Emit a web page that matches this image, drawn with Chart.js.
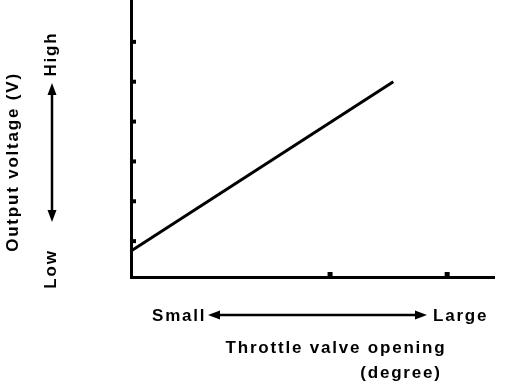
<html>
    <head>
        <title>Throttle Position Sensor Output</title>
        <style>
            body { margin: 0; background: #fff; }
            #wrap { width: 512px; height: 384px; }
        </style>
    </head>
    <body>
        <div id="wrap"><canvas id="myChart"></canvas></div>
        <script src="https://cdn.jsdelivr.net/npm/chart.js@4.4.0/dist/chart.umd.min.js"></script>
        <script>
            // values (arbitrary units, no numbers printed on the axes)
            var xTicks = [5.1, 8.1];          // the two small marks on the throttle axis
            var yTicks = [1, 2, 3, 4, 5, 6];  // the six small marks on the voltage axis
            var throttle = [0, 6.72];         // line start / end along x
            var voltage = [0.75, 5.0];        // line start / end along y

            var xLabelLow = 'Small';
            var xLabelHigh = 'Large';
            var xTitle = ['Throttle valve opening', '(degree)'];
            var yLabelLow = 'Low';
            var yLabelHigh = 'High';
            var yTitle = 'Output voltage (V)';

            var points = throttle.map(function (x, i) { return {x: x, y: voltage[i]}; });

            var FONT = 'bold 17px "Liberation Sans", Arial, sans-serif';

            function arrowHead(ctx, x, y, dx, dy) {
                // filled triangle pointing in direction (dx, dy)
                var len = 12, half = 4.5;
                var px = -dy, py = dx;
                ctx.beginPath();
                ctx.moveTo(x, y);
                ctx.lineTo(x - dx * len + px * half, y - dy * len + py * half);
                ctx.lineTo(x - dx * len - px * half, y - dy * len - py * half);
                ctx.closePath();
                ctx.fill();
            }

            // small tick marks drawn on the inside of the axes + all the hand-lettered labels
            var decorations = {
                id: 'decorations',
                afterDraw: function (chart) {
                    var ctx = chart.ctx;
                    var xs = chart.scales.x, ys = chart.scales.y;
                    var area = chart.chartArea;
                    ctx.save();
                    ctx.fillStyle = '#000';
                    ctx.strokeStyle = '#000';

                    ys.ticks.forEach(function (t) {
                        var py = ys.getPixelForValue(t.value);
                        ctx.fillRect(area.left + 1, py - 2, 4, 4);
                    });
                    xs.ticks.forEach(function (t) {
                        var px = xs.getPixelForValue(t.value);
                        ctx.fillRect(px - 2.5, area.bottom - 5, 5, 4);
                    });

                    ctx.font = FONT;
                    ctx.letterSpacing = '1.8px';
                    ctx.textBaseline = 'middle';

                    // x axis labels
                    ctx.textAlign = 'left';
                    ctx.fillText(xLabelLow, 152, 316);
                    ctx.fillText(xLabelHigh, 433, 316);
                    ctx.lineWidth = 2.5;
                    ctx.beginPath();
                    ctx.moveTo(214, 315);
                    ctx.lineTo(421, 315);
                    ctx.stroke();
                    arrowHead(ctx, 208, 315, -1, 0);
                    arrowHead(ctx, 427, 315, 1, 0);
                    ctx.textAlign = 'center';
                    ctx.fillText(xTitle[0], 336, 348);
                    ctx.fillText(xTitle[1], 401, 373);

                    // y axis labels (rotated)
                    ctx.save();
                    ctx.translate(13, 162);
                    ctx.rotate(-Math.PI / 2);
                    ctx.fillText(yTitle, 0, 0);
                    ctx.restore();

                    ctx.save();
                    ctx.translate(51, 54);
                    ctx.rotate(-Math.PI / 2);
                    ctx.fillText(yLabelHigh, 0, 0);
                    ctx.restore();

                    ctx.save();
                    ctx.translate(51, 269);
                    ctx.rotate(-Math.PI / 2);
                    ctx.fillText(yLabelLow, 0, 0);
                    ctx.restore();

                    ctx.beginPath();
                    ctx.moveTo(52, 89);
                    ctx.lineTo(52, 216);
                    ctx.stroke();
                    arrowHead(ctx, 52, 83, 0, -1);
                    arrowHead(ctx, 52, 222, 0, 1);

                    ctx.restore();
                }
            };

            var ctx = document.getElementById('myChart').getContext('2d');
            var chart = new Chart(ctx, {
                type: 'scatter',
                data: {
                    datasets: [{
                        data: points,
                        showLine: true,
                        borderColor: '#000',
                        borderWidth: 3,
                        pointRadius: 0,
                        fill: false
                    }]
                },
                options: {
                    responsive: true,
                    maintainAspectRatio: false,
                    animation: false,
                    layout: { padding: { left: 131, right: 18, top: 0, bottom: 107 } },
                    plugins: {
                        legend: { display: false },
                        tooltip: { enabled: false }
                    },
                    scales: {
                        x: {
                            type: 'linear',
                            min: 0,
                            max: 9.3,
                            afterBuildTicks: function (s) { s.ticks = xTicks.map(function (v) { return {value: v}; }); },
                            ticks: { display: false },
                            grid: { display: false, drawTicks: false },
                            border: { display: true, color: '#000', width: 3 }
                        },
                        y: {
                            type: 'linear',
                            min: 0.1,
                            max: 7.05,
                            afterBuildTicks: function (s) { s.ticks = yTicks.map(function (v) { return {value: v}; }); },
                            ticks: { display: false },
                            grid: { display: false, drawTicks: false },
                            border: { display: true, color: '#000', width: 3 }
                        }
                    }
                },
                plugins: [decorations]
            });
        </script>
    </body>
</html>
